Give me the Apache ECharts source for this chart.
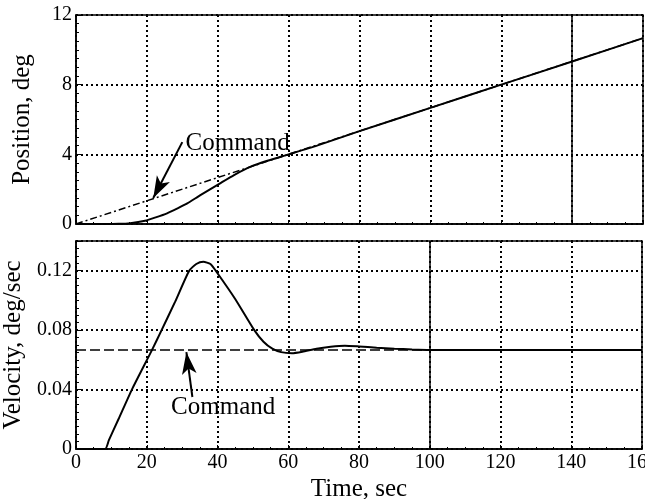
<!DOCTYPE html>
<html>
<head>
<meta charset="utf-8">
<script src="https://cdn.jsdelivr.net/npm/echarts@6/dist/echarts.min.js"></script>
<style>
  html, body { margin: 0; padding: 0; background: #fff; }
  #main { width: 645px; height: 499px; }
</style>
</head>
<body>
<div id="main"></div>
<script>
// time axis ticks
var timeTicks = [0, 20, 40, 60, 80, 100, 120, 140, 160];

// position (deg) vs time (sec)
var posCmdT = [0, 160];
var posCmd = [0, 10.67];
var posT = [0, 8, 12, 15.3, 19.5, 22.5, 25.7, 28.5, 31.4, 35.1, 40.3, 44.6, 49.3, 54, 60, 68, 80, 100, 120, 140, 160];
var pos = [0, 0, 0.01, 0.05, 0.19, 0.38, 0.61, 0.88, 1.18, 1.66, 2.29, 2.81, 3.29, 3.63, 4.0, 4.5, 5.33, 6.67, 8.0, 9.33, 10.67];

// velocity (deg/sec) vs time (sec)
var velCmdT = [0, 160];
var velCmd = [0.0667, 0.0667];
var velT = [0, 8.2, 9.3, 12, 15.8, 21.5, 24.2, 28, 32, 34, 36, 38, 39.5, 45, 50.4, 53, 55.5, 58, 61, 64, 68, 72, 76, 80, 85, 90, 95, 100, 160];
var vel = [0, 0, 0.006, 0.02, 0.04, 0.0667, 0.08, 0.099, 0.12, 0.1245, 0.126, 0.1245, 0.12, 0.101, 0.08, 0.0722, 0.0675, 0.0652, 0.0645, 0.0655, 0.0675, 0.0688, 0.0695, 0.069, 0.0682, 0.0675, 0.067, 0.0667, 0.0667];

function zip(a, b) {
  return a.map(function (v, i) { return [v, b[i]]; });
}

var font = 'Liberation Serif';
var dotted = { color: '#000', width: 2, type: [2, 3] };

function xAx(grid, labels) {
  return {
    type: 'value', gridIndex: grid, min: 0, max: 160, interval: 20,
    axisLine: { show: true, lineStyle: { color: '#000', width: 1.5 } },
    axisTick: { show: true, inside: true, length: 4, lineStyle: { color: '#000' } },
    minorTick: { show: true, splitNumber: 4, length: 2, lineStyle: { color: '#000' } },
    axisLabel: { show: labels, color: '#000', fontFamily: font, fontSize: 20, margin: 4 },
    splitLine: { show: true, lineStyle: dotted },
    name: labels ? 'Time, sec' : '', nameLocation: 'middle', nameGap: 28,
    nameTextStyle: { color: '#000', fontFamily: font, fontSize: 25 }
  };
}

function yAx(grid, max, interval, name, fmt) {
  return {
    type: 'value', gridIndex: grid, min: 0, max: max, interval: interval,
    axisLine: { show: true, lineStyle: { color: '#000', width: 1.5 } },
    axisTick: { show: true, inside: true, length: 5, lineStyle: { color: '#000' } },
    minorTick: { show: true, splitNumber: 8, length: 3, lineStyle: { color: '#000' } },
    axisLabel: { color: '#000', fontFamily: font, fontSize: 20, margin: 4, showMaxLabel: grid === 0, formatter: fmt },
    splitLine: { show: true, lineStyle: dotted },
    name: name, nameLocation: 'middle', nameGap: 41,
    nameTextStyle: { color: '#000', fontFamily: font, fontSize: 25 }
  };
}

var arrowLine = {
  silent: true, symbol: ['none', 'arrow'], symbolSize: [11, 22],
  lineStyle: { color: '#000', width: 2, type: 'solid' },
  label: { show: false }
};

var option = {
  animation: false,
  backgroundColor: '#fff',
  grid: [
    { left: 76, top: 15, width: 567, height: 209, show: true, borderColor: '#000', borderWidth: 1.5,
      containLabel: false, outerBoundsMode: 'none' },
    { left: 76, top: 241, width: 566, height: 208, show: true, borderColor: '#000', borderWidth: 1.5,
      containLabel: false, outerBoundsMode: 'none' }
  ],
  xAxis: [xAx(0, false), xAx(1, true)],
  yAxis: [
    yAx(0, 12, 4, 'Position, deg'),
    yAx(1, 0.14, 0.04, 'Velocity, deg/sec', function (v) { return v === 0 ? '0' : v.toFixed(2); })
  ],
  series: [
    {
      name: 'Position command', type: 'line', xAxisIndex: 0, yAxisIndex: 0,
      data: zip(posCmdT, posCmd), showSymbol: false,
      lineStyle: { color: '#000', width: 1.5, type: [7, 3, 2, 3] },
      markLine: Object.assign({}, arrowLine, {
        data: [[{ coord: [30, 4.7] }, { coord: [21.8, 1.49] }]]
      }),
      markPoint: {
        silent: true, symbolSize: 0,
        label: { show: true, position: 'inside', color: '#000', fontFamily: font, fontSize: 25, formatter: 'Command' },
        data: [{ coord: [45.6, 4.65] }]
      }
    },
    {
      name: 'Position', type: 'line', xAxisIndex: 0, yAxisIndex: 0,
      data: zip(posT, pos), showSymbol: false, smooth: 0.2,
      lineStyle: { color: '#000', width: 2 },
      markLine: {
        silent: true, symbol: 'none', label: { show: false },
        lineStyle: { color: '#000', width: 1.5, type: 'solid' },
        data: [{ xAxis: 140 }]
      }
    },
    {
      name: 'Velocity command', type: 'line', xAxisIndex: 1, yAxisIndex: 1,
      data: zip(velCmdT, velCmd), showSymbol: false,
      lineStyle: { color: '#000', width: 1.5, type: [10, 4] },
      markLine: Object.assign({}, arrowLine, {
        data: [[{ coord: [32.9, 0.035] }, { coord: [31.2, 0.0652] }]]
      }),
      markPoint: {
        silent: true, symbolSize: 0,
        label: { show: true, position: 'inside', color: '#000', fontFamily: font, fontSize: 25, formatter: 'Command' },
        data: [{ coord: [41.6, 0.0278] }]
      }
    },
    {
      name: 'Velocity', type: 'line', xAxisIndex: 1, yAxisIndex: 1,
      data: zip(velT, vel), showSymbol: false, smooth: 0.2,
      lineStyle: { color: '#000', width: 2 },
      markLine: {
        silent: true, symbol: 'none', label: { show: false },
        lineStyle: { color: '#000', width: 1.5, type: 'solid' },
        data: [{ xAxis: 100 }]
      }
    }
  ]
};

var chart = echarts.init(document.getElementById('main'));
chart.setOption(option);
</script>
</body>
</html>
